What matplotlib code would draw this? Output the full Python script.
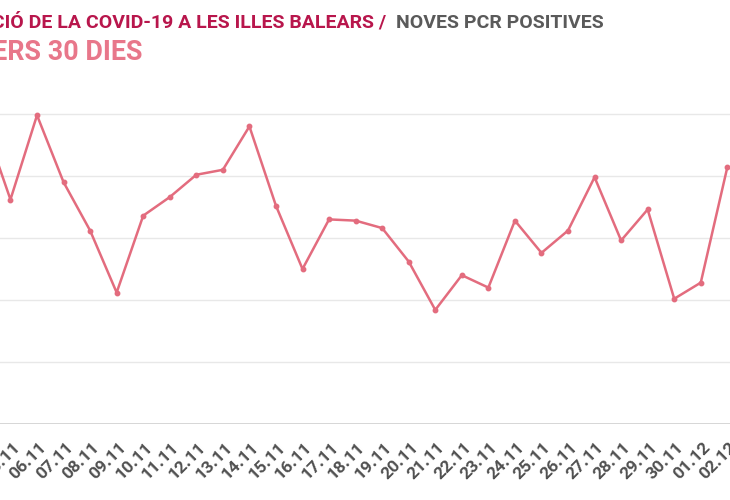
import matplotlib
matplotlib.use("Agg")
import matplotlib.pyplot as plt
import matplotlib.transforms as mtransforms

# dades: noves PCR positives diàries (la gràfica original està retallada per l'esquerra)
dies = ["04.11", "05.11", "06.11", "07.11", "08.11", "09.11", "10.11", "11.11",
        "12.11", "13.11", "14.11", "15.11", "16.11", "17.11", "18.11", "19.11",
        "20.11", "21.11", "22.11", "23.11", "24.11", "25.11", "26.11", "27.11",
        "28.11", "29.11", "30.11", "01.12", "02.12"]
positives = [243, 181, 249, 195, 156, 106, 168, 183, 201, 205, 240, 176, 125,
             165, 164, 158, 131, 92, 120, 110, 164, 138, 156, 199, 148, 173,
             101, 114, 207]
graella = [50, 100, 150, 200, 250]

plt.rcParams['font.family'] = ['Roboto', 'DejaVu Sans']

fig = plt.figure(figsize=(7.3, 5.0), dpi=100)
ax = fig.add_axes([0, 0.152, 1, 0.668])

x = list(range(len(dies)))
ax.plot(x, positives, color="#e36c7e", lw=1.8, marker="o", ms=3.2, zorder=3)

for g in graella:
    ax.axhline(g, color="#e8e8e8", lw=1, zorder=1)
ax.axhline(0, color="#cfcfcf", lw=1.2, zorder=2)

for s in ax.spines.values():
    s.set_visible(False)
ax.set_yticks([])
ax.set_xticks([])

pas = 26.55 / 730
x0 = 2 - 0.0507 / pas
ax.set_xlim(x0, x0 + 1 / pas)
ax.set_ylim(0, 269.35)

# etiquetes de dates girades 45 graus
base = mtransforms.blended_transform_factory(ax.transData, ax.transAxes)
off = mtransforms.ScaledTranslation(0.07, -0.21, fig.dpi_scale_trans)
for i, d in zip(x, dies):
    ax.text(i, 0, d, transform=base + off, rotation=45, ha="right",
            va="center", rotation_mode="anchor", fontsize=12.5,
            fontweight="bold", color="#505050", clip_on=False)

fig.text(386 / 730, 1 - 22.5 / 500, "EVOLUCIÓ DE LA COVID-19 A LES ILLES BALEARS /",
         ha="right", va="center", fontsize=14, fontweight="bold",
         color="#b8164c")
fig.text(396 / 730, 1 - 22.5 / 500, "NOVES PCR POSITIVES",
         ha="left", va="center", fontsize=14, fontweight="bold",
         color="#5a5a5a")
fig.text(143 / 730, 1 - 52 / 500, "DARRERS 30 DIES",
         ha="right", va="center", fontsize=19.4, fontweight="bold",
         color="#e8778a")

fig.savefig("out.png", dpi=100)
